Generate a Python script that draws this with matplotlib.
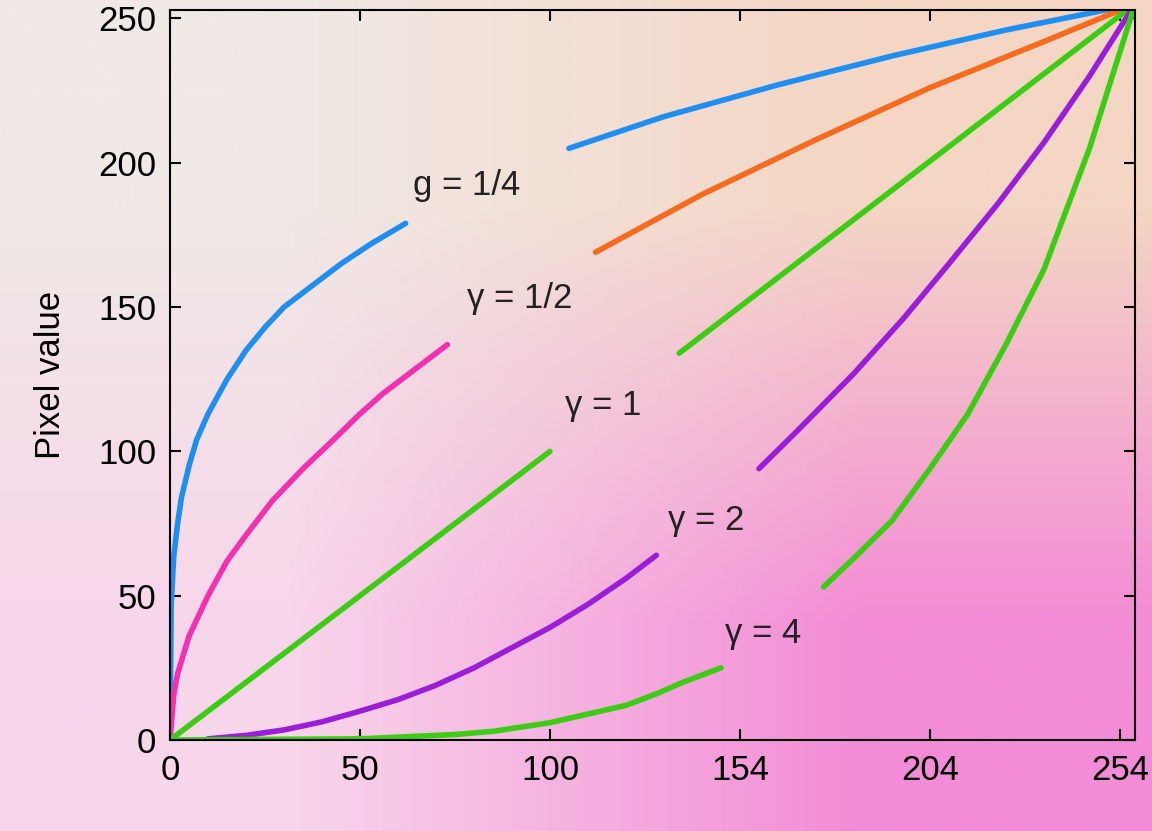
import numpy as np
import matplotlib
matplotlib.use("Agg")
import matplotlib.pyplot as plt

plt.rcParams["font.family"] = "Liberation Sans"

# gamma 1/4 (blue)
g14_x1 = [0, 0.3, 1, 2, 3, 5, 7, 10, 15, 20, 25, 30, 37, 45, 53, 62]
g14_y1 = [0, 47, 64, 75, 84, 95, 104, 113, 125, 135, 143, 150, 157, 165, 172, 179]
g14_x2 = [105, 130, 160, 190, 220, 254]
g14_y2 = [205, 216, 227, 237, 246, 255]
# gamma 1/2 (pink then orange)
g12_x1 = [0, 1, 2, 5, 10, 15, 20, 27, 35, 43, 50, 56, 62, 73]
g12_y1 = [0, 16, 23, 36, 50, 62, 71, 83, 94, 104, 113, 120, 126, 137]
g12_x2 = [112, 140, 170, 200, 230, 254]
g12_y2 = [169, 189, 208, 226, 242, 255]
# gamma 1
g1_x1 = [0, 100]; g1_y1 = [0, 100]
g1_x2 = [134, 254]; g1_y2 = [134, 255]
# gamma 2
g2_x1 = [10, 20, 30, 40, 50, 60, 70, 80, 90, 100, 110, 120, 128]
g2_y1 = [0.4, 1.6, 3.5, 6.3, 10, 14, 19, 25, 32, 39, 47, 56, 64]
g2_x2 = [155, 165, 180, 193, 205, 218, 230, 242, 254]
g2_y2 = [94, 107, 127, 146, 165, 186, 207, 230, 255]
# gamma 4
g4_x1 = [0, 50, 75, 85, 100, 110, 120, 128, 135, 145]
g4_y1 = [0, 0.4, 1.9, 3, 6, 9, 12, 16, 20, 25]
g4_x2 = [172, 180, 190, 200, 210, 220, 230, 242, 254]
g4_y2 = [53, 63, 76, 94, 113, 137, 163, 205, 255]

tick_pos = [0, 50, 100, 150, 200, 250]
xtick_labels = ["0", "50", "100", "154", "204", "254"]
ytick_labels = ["0", "50", "100", "150", "200", "250"]
labels = ["g = 1/4", "γ = 1/2", "γ = 1", "γ = 2", "γ = 4"]
label_pos = [(78, 192), (92, 153), (114, 116), (141, 76), (156, 37)]

fig = plt.figure(figsize=(11.52, 8.31), dpi=100)
bg = fig.add_axes([0, 0, 1, 1], zorder=0)
c = np.array([[[240, 233, 230], [244, 214, 196]],
              [[248, 214, 234], [243, 140, 214]]]) / 255
bg.imshow(c, extent=[0, 1, 0, 1], interpolation="bilinear", aspect="auto")
bg.axis("off")

ax = fig.add_axes([0.1476, 0.1095, 0.8377, 0.878], zorder=1)
ax.patch.set_alpha(0)
lw = 4
blue, pink, orange, green, purple = "#1e8ef0", "#f42fb0", "#f86a1e", "#3ccc14", "#9a1ed8"
kw = dict(lw=lw, solid_joinstyle="round", solid_capstyle="round")
ax.plot(g14_x1, g14_y1, color=blue, **kw)
ax.plot(g14_x2, g14_y2, color=blue, **kw)
ax.plot(g12_x1, g12_y1, color=pink, **kw)
ax.plot(g12_x2, g12_y2, color=orange, **kw)
ax.plot(g1_x1, g1_y1, color=green, **kw)
ax.plot(g1_x2, g1_y2, color=green, **kw)
ax.plot(g2_x1, g2_y1, color=purple, **kw)
ax.plot(g2_x2, g2_y2, color=purple, **kw)
ax.plot(g4_x1, g4_y1, color=green, **kw)
ax.plot(g4_x2, g4_y2, color=green, **kw)
for t, (x, y) in zip(labels, label_pos):
    ax.text(x, y, t, fontsize=25, ha="center", va="center", color="#222222")

ax.set_xlim(0, 254)
ax.set_ylim(0, 252.8)
ax.set_xticks(tick_pos)
ax.set_xticklabels(xtick_labels)
ax.set_yticks(tick_pos)
ax.set_yticklabels(ytick_labels)
ax.tick_params(direction="in", length=8, width=1.5, labelsize=25, top=True, right=True, pad=10)
for s in ax.spines.values():
    s.set_linewidth(1.5)
ax.set_ylabel("Pixel value", fontsize=25, labelpad=22)
fig.savefig("out.png", dpi=100)
